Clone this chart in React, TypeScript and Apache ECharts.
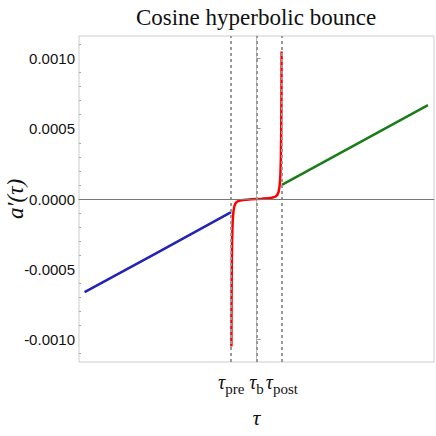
import React, { useEffect, useRef } from "react";
import * as echarts from "echarts";

const title = "Cosine hyperbolic bounce";
const xTickValues = [-1, 0, 1];
const xTickNames = ["pre", "b", "post"];
const yTickValues = [-0.001, -0.0005, 0, 0.0005, 0.001];
const yMinorTicks = [
  -0.0011, -0.0009, -0.0008, -0.0007, -0.0006, -0.0004, -0.0003, -0.0002, -0.0001,
  0.0001, 0.0002, 0.0003, 0.0004, 0.0006, 0.0007, 0.0008, 0.0009, 0.0011,
];
const preBounce: [number, number][] = [
  [-6.78, -0.000663],
  [-4, -0.00039],
  [-1, -0.000094],
];
const postBounce: [number, number][] = [
  [1, 0.000101],
  [4, 0.000396],
  [6.76, 0.000668],
];
const bounce: [number, number][] = [
  [-0.99, -0.00105],
  [-0.985, -0.00075],
  [-0.975, -0.00048],
  [-0.96, -0.00028],
  [-0.94, -0.00016],
  [-0.91, -0.00009],
  [-0.87, -0.00005],
  [-0.82, -0.000028],
  [-0.75, -0.000017],
  [-0.6, -0.000009],
  [-0.4, -0.0000045],
  [-0.2, -0.000002],
  [0, 0],
  [0.2, 0.000002],
  [0.4, 0.0000045],
  [0.6, 0.000009],
  [0.75, 0.000017],
  [0.82, 0.000028],
  [0.87, 0.00005],
  [0.91, 0.00009],
  [0.94, 0.00016],
  [0.96, 0.00028],
  [0.975, 0.00048],
  [0.985, 0.00075],
  [0.99, 0.00105],
];

const serif = "'Liberation Serif', 'DejaVu Serif', serif";
const sans = "'Liberation Sans Narrow', 'Arial Narrow', 'Liberation Sans', sans-serif";

export default function App() {
  const ref = useRef<HTMLDivElement>(null);
  useEffect(() => {
    if (!ref.current) return;
    const chart = echarts.init(ref.current, null, { renderer: "svg" });
    const Y_MIN = -0.00116;
    const Y_MAX = 0.00116;
    chart.setOption({
      animation: false,
      title: {
        text: title,
        left: 251,
        top: 1,
        textAlign: "center",
        textStyle: { fontFamily: serif, fontSize: 23, fontWeight: "normal", color: "#111" },
      },
      grid: {
        left: 79,
        right: 2,
        top: 36,
        bottom: 74,
        containLabel: false,
        outerBoundsMode: "none",
        show: true,
        borderColor: "#cccccc",
        borderWidth: 1,
      },
      xAxis: {
        type: "value",
        min: -7,
        max: 7,
        name: "τ",
        nameLocation: "middle",
        nameGap: 44,
        nameTextStyle: { fontFamily: serif, fontStyle: "italic", fontSize: 22, color: "#111" },
        axisLine: { show: true, lineStyle: { color: "#999" } },
        axisTick: { show: false },
        splitLine: { show: false },
        axisLabel: {
          customValues: xTickValues,
          margin: 10,
          formatter: (v: number) => {
            const i = xTickValues.indexOf(v);
            return i >= 0 ? `{t|τ}{s|${xTickNames[i]}}` : "";
          },
          rich: {
            t: { fontFamily: serif, fontStyle: "italic", fontSize: 20, color: "#111", verticalAlign: "top" },
            s: { fontFamily: serif, fontSize: 15, color: "#111", padding: [9, 0, 0, 0], verticalAlign: "bottom" },
          },
        },
      },
      yAxis: [
        {
          type: "value",
          min: Y_MIN,
          max: Y_MAX,
          name: "a′(τ)",
          nameLocation: "middle",
          nameGap: 52,
          nameMoveOverlap: false,
          nameRotate: 90,
          nameTextStyle: { fontFamily: serif, fontStyle: "italic", fontSize: 23, color: "#111" },
          axisLine: { show: true, lineStyle: { color: "#bbb" } },
          axisTick: { show: true, inside: true, length: 4, customValues: yTickValues, lineStyle: { color: "#999" } },
          splitLine: { show: false },
          axisLabel: {
            customValues: yTickValues,
            margin: 4,
            fontFamily: sans,
            fontSize: 15,
            color: "#111",
            formatter: (v: number) => v.toFixed(4),
          },
        },
        {
          type: "value",
          min: Y_MIN,
          max: Y_MAX,
          position: "left",
          axisLine: { show: false },
          axisTick: { show: true, inside: true, length: 2, customValues: yMinorTicks, lineStyle: { color: "#aaa" } },
          axisLabel: { show: false },
          splitLine: { show: false },
        },
      ],
      series: [
        {
          type: "line",
          data: [],
          z: 1,
          silent: true,
          markLine: {
            silent: true,
            symbol: "none",
            label: { show: false },
            data: [
              ...xTickValues.map((v) => ({
                xAxis: v,
                lineStyle: { color: "#999", width: 2, type: [3, 3] },
              })),
              { yAxis: 0, lineStyle: { color: "#777", width: 1, type: "solid" } },
            ],
          },
        },
        {
          type: "line",
          data: preBounce,
          showSymbol: false,
          z: 3,
          lineStyle: { color: "#2323b5", width: 2.5 },
        },
        {
          type: "line",
          data: postBounce,
          showSymbol: false,
          z: 3,
          lineStyle: { color: "#1a7d1a", width: 2.5 },
        },
        {
          type: "line",
          data: bounce,
          showSymbol: false,
          z: 4,
          lineStyle: { color: "#ff0000", width: 2.5 },
        },
      ],
    });
    return () => chart.dispose();
  }, []);
  return <div ref={ref} style={{ width: 436, height: 436, position: "absolute", left: 0, top: 0 }} />;
}
